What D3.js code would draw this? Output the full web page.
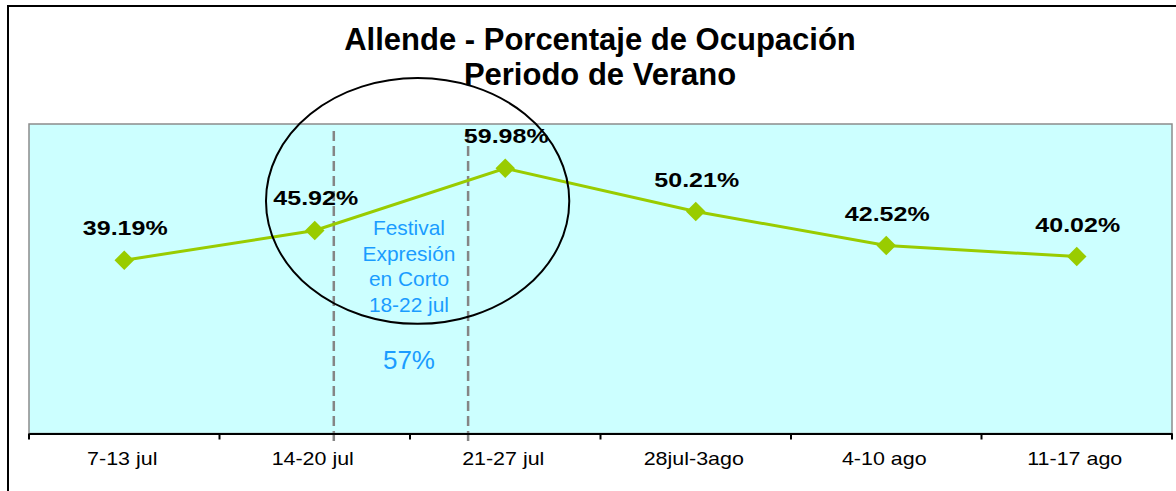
<!DOCTYPE html>
<html>
<head>
<meta charset="utf-8">
<script src="https://cdn.jsdelivr.net/npm/d3@7"></script>
<style>
  html, body { margin: 0; padding: 0; background: #fff; }
  svg { display: block; }
  text { font-family: "Liberation Sans", Arial, sans-serif; }
</style>
</head>
<body>
<svg id="chart" width="1176" height="491"></svg>
<script>
// Weekly occupancy, Allende, summer period
const categories = ["7-13 jul", "14-20 jul", "21-27 jul", "28jul-3ago", "4-10 ago", "11-17 ago"];
const occupancy = [0.3919, 0.4592, 0.5998, 0.5021, 0.4252, 0.4002];
const titleLines = ["Allende - Porcentaje de Ocupación", "Periodo de Verano"];
const festivalLines = ["Festival", "Expresión", "en Corto", "18-22 jul"];
const festivalOccupancy = 0.57;
// festival window, in category-index units (fractional positions between weeks)
const festivalBounds = [1.10, 1.805];

const plot = { left: 29, right: 1172, top: 124, bottom: 433.5 };
const lineColor = "#99CC00";
const noteColor = "#1a9cff";

const svg = d3.select("#chart");

// outer chart frame (extends past the window on right/bottom)
svg.append("rect")
  .attr("x", 8).attr("y", 6)
  .attr("width", 1184).attr("height", 500)
  .attr("fill", "#fff").attr("stroke", "#000").attr("stroke-width", 2);

const x = d3.scaleBand().domain(categories).range([plot.left, plot.right]).padding(0);
const y = d3.scaleLinear().domain([0, 0.7]).range([plot.bottom, plot.top]);
const xi = d3.scaleLinear()
  .domain([0, categories.length - 1])
  .range([x(categories[0]) + x.bandwidth() / 2, x(categories[categories.length - 1]) + x.bandwidth() / 2]);

// plot background
svg.append("rect")
  .attr("x", plot.left).attr("y", plot.top)
  .attr("width", plot.right - plot.left).attr("height", plot.bottom - plot.top)
  .attr("fill", "#CCFFFF").attr("stroke", "#8c8c8c").attr("stroke-width", 1.5);

// title, two lines
svg.selectAll("text.title")
  .data(titleLines)
  .join("text")
  .attr("class", "title")
  .attr("x", 600)
  .attr("y", (d, i) => 50 + i * 35)
  .attr("text-anchor", "middle")
  .attr("font-weight", "bold")
  .attr("font-size", 31)
  .attr("fill", "#000")
  .text(d => d);

// festival window markers
const dashTop = plot.top + 7, dashBottom = plot.bottom + 8;
svg.selectAll("line.festival")
  .data(festivalBounds)
  .join("line")
  .attr("class", "festival")
  .attr("x1", d => xi(d)).attr("x2", d => xi(d))
  .attr("y1", dashTop).attr("y2", dashBottom)
  .attr("stroke", "#858585").attr("stroke-width", 2.5)
  .attr("stroke-dasharray", "10,5");

// festival note
const noteX = xi((festivalBounds[0] + festivalBounds[1]) / 2) + 8;
festivalLines.forEach((t, i) => {
  svg.append("g")
    .attr("transform", `translate(${noteX},${235 + i * 25.5})`)
    .append("text")
    .attr("transform", "scale(1.045,1)")
    .attr("text-anchor", "middle")
    .attr("font-size", 20)
    .attr("fill", noteColor)
    .text(t);
});
svg.append("text")
  .attr("x", noteX).attr("y", 368.5)
  .attr("text-anchor", "middle")
  .attr("font-size", 26)
  .attr("fill", noteColor)
  .text(d3.format(".0%")(festivalOccupancy));

// occupancy line
const pts = occupancy.map((v, i) => [x(categories[i]) + x.bandwidth() / 2, y(v)]);
svg.append("path")
  .attr("d", d3.line()(pts))
  .attr("fill", "none")
  .attr("stroke", lineColor)
  .attr("stroke-width", 3);

svg.selectAll("path.marker")
  .data(pts)
  .join("path")
  .attr("class", "marker")
  .attr("d", d3.symbol(d3.symbolSquare, 190)())
  .attr("transform", d => `translate(${d[0]},${d[1]}) rotate(45)`)
  .attr("fill", lineColor);

// highlight ellipse around the festival weeks
svg.append("ellipse")
  .attr("cx", xi(1.54)).attr("cy", y(0.526))
  .attr("rx", x.bandwidth() * 0.796).attr("ry", y(0) - y(0.278))
  .attr("fill", "none").attr("stroke", "#000").attr("stroke-width", 2);

// value labels
const fmt = d3.format(".2%");
svg.selectAll("g.vlabel")
  .data(occupancy)
  .join("g")
  .attr("class", "vlabel")
  .attr("transform", (v, i) => `translate(${x(categories[i]) + x.bandwidth() / 2 + 1},${y(v) - 25})`)
  .append("text")
  .attr("transform", "scale(1.25,1)")
  .attr("text-anchor", "middle")
  .attr("font-weight", "bold")
  .attr("font-size", 20)
  .attr("fill", "#000")
  .text(v => fmt(v));

// x axis: baseline, boundary ticks, category labels
const axis = svg.append("g").attr("transform", `translate(0,${plot.bottom})`);
axis.call(d3.axisBottom(x).tickSize(0).tickFormat(""))
  .call(g => g.select(".domain").attr("stroke", "#000").attr("stroke-width", 2));
const bounds = categories.map(c => x(c)).concat([plot.right]);
axis.selectAll("line.bound")
  .data(bounds)
  .join("line")
  .attr("class", "bound")
  .attr("x1", d => d).attr("x2", d => d)
  .attr("y1", 0).attr("y2", 6)
  .attr("stroke", "#000").attr("stroke-width", 2);
axis.selectAll("g.clabel")
  .data(categories)
  .join("g")
  .attr("class", "clabel")
  .attr("transform", d => `translate(${x(d) + x.bandwidth() / 2 - 2},31.5)`)
  .append("text")
  .attr("transform", "scale(1.16,1)")
  .attr("text-anchor", "middle")
  .attr("font-size", 18.5)
  .attr("fill", "#000")
  .text(d => d);
</script>
</body>
</html>
